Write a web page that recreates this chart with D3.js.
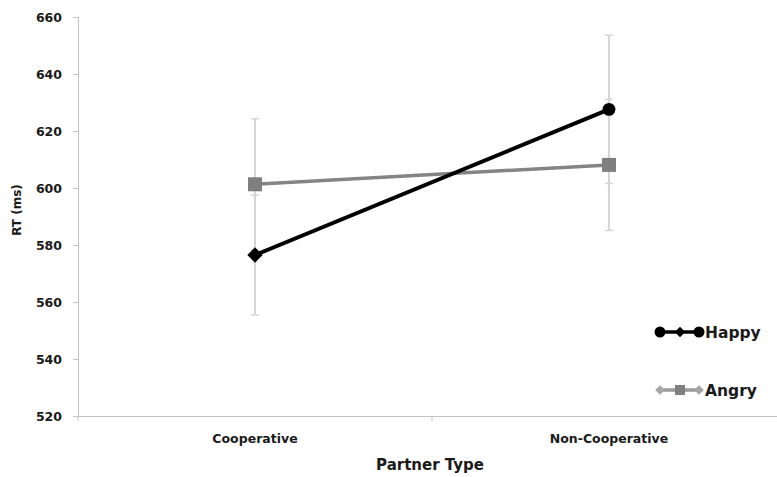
<!DOCTYPE html>
<html>
<head>
<meta charset="utf-8">
<script src="https://cdn.jsdelivr.net/npm/d3@7"></script>
<style>
  html, body { margin: 0; padding: 0; background: #fff; }
  svg { display: block; font-family: "DejaVu Sans", sans-serif; }
</style>
</head>
<body>
<svg id="chart" width="777" height="477"></svg>
<script>
// Reaction times by partner type and facial expression
const categories = ["Cooperative", "Non-Cooperative"];
const happyRT = [576.5, 627.6];
const angryRT = [601.3, 608.1];
const happyErr = [21, 26];
const angryErr = [23, 23];
const yTicks = [520, 540, 560, 580, 600, 620, 640, 660];
const seriesNames = ["Happy", "Angry"];

const svg = d3.select("#chart");
const axisColor = "#c3c3c3";
const errColor = "#d6d6d6";
const textColor = "#1a1a1a";
const font = "'DejaVu Sans', sans-serif";

const x = d3.scaleBand().domain(categories).range([78, 786]);
const y = d3.scaleLinear().domain([520, 660]).range([416, 17]);

// y axis
const yAxis = svg.append("g").attr("transform", "translate(78,0)")
  .call(d3.axisLeft(y).tickValues(yTicks).tickSize(5).tickPadding(11).tickFormat(d3.format("d")));
yAxis.select(".domain").attr("stroke", axisColor).attr("stroke-width", 1);
yAxis.selectAll(".tick line").attr("stroke", axisColor);
yAxis.selectAll(".tick text").attr("fill", textColor).attr("font-size", 12.5).attr("font-weight", "bold")
  .attr("font-family", font);

// x axis: ticks sit on band boundaries
const xAxis = svg.append("g").attr("transform", "translate(0,416)");
xAxis.append("line").attr("x1", 78).attr("x2", 786).attr("y1", 0.5).attr("y2", 0.5)
  .attr("stroke", axisColor);
const bounds = [x.range()[0], ...categories.map(c => x(c) + x.bandwidth())];
xAxis.selectAll("line.tk").data(bounds).join("line").attr("class", "tk")
  .attr("x1", d => d).attr("x2", d => d).attr("y1", 0).attr("y2", 5).attr("stroke", axisColor);
xAxis.selectAll("text").data(categories).join("text")
  .attr("x", d => x(d) + x.bandwidth() / 2).attr("y", 27)
  .attr("text-anchor", "middle").attr("font-size", 12.5).attr("font-weight", "bold").attr("fill", textColor)
  .text(d => d);

// axis titles
svg.append("text").attr("x", 430).attr("y", 470).attr("text-anchor", "middle")
  .attr("font-size", 15).attr("font-weight", "bold").attr("fill", textColor).text("Partner Type");
svg.append("text").attr("transform", "translate(21,210) rotate(-90)").attr("text-anchor", "middle")
  .attr("font-size", 12).attr("font-weight", "bold").attr("fill", textColor).text("RT (ms)");

const cx = c => x(c) + x.bandwidth() / 2;

// error bars
function errorBars(vals, errs) {
  const g = svg.append("g");
  categories.forEach((c, i) => {
    const px = cx(c), top = y(vals[i] + errs[i]), bot = y(vals[i] - errs[i]);
    g.append("line").attr("x1", px).attr("x2", px).attr("y1", top).attr("y2", bot)
      .attr("stroke", errColor).attr("stroke-width", 2);
    [top, bot].forEach(yy => g.append("line").attr("x1", px - 4).attr("x2", px + 4)
      .attr("y1", yy).attr("y2", yy).attr("stroke", errColor).attr("stroke-width", 1.5));
  });
}
errorBars(happyRT, happyErr);
errorBars(angryRT, angryErr);

const line = d3.line().x((d, i) => cx(categories[i])).y(d => y(d));

// Angry series
svg.append("path").datum(angryRT).attr("d", line).attr("fill", "none")
  .attr("stroke", "#848484").attr("stroke-width", 3.5);
svg.selectAll("rect.angry").data(angryRT).join("rect").attr("class", "angry")
  .attr("x", (d, i) => cx(categories[i]) - 7).attr("y", d => y(d) - 7)
  .attr("width", 14).attr("height", 14).attr("fill", "#7f7f7f");

// Happy series
svg.append("path").datum(happyRT).attr("d", line).attr("fill", "none")
  .attr("stroke", "#000").attr("stroke-width", 4);
const diamond = d3.symbol().type(d3.symbolDiamond2);
const circle = d3.symbol().type(d3.symbolCircle);
svg.selectAll("path.happy").data(happyRT).join("path").attr("class", "happy")
  .attr("transform", (d, i) => `translate(${cx(categories[i])},${y(d)})`)
  .attr("d", (d, i) => i === 0 ? diamond.size(150)() : circle.size(130)())
  .attr("fill", "#000");

// legend
const legend = svg.append("g");
const legRows = [
  { name: seriesNames[0], y: 332, stroke: "#000", end: "#000", mid: "#000", endType: "circle", midType: "diamond" },
  { name: seriesNames[1], y: 390, stroke: "#999", end: "#a6a6a6", mid: "#808080", endType: "diamond", midType: "square" }
];
legRows.forEach(r => {
  legend.append("line").attr("x1", 660).attr("x2", 700).attr("y1", r.y).attr("y2", r.y)
    .attr("stroke", r.stroke).attr("stroke-width", 3.5);
  [660, 699].forEach(px => {
    if (r.endType === "circle") legend.append("circle").attr("cx", px).attr("cy", r.y).attr("r", 5.5).attr("fill", r.end);
    else legend.append("path").attr("transform", `translate(${px},${r.y})`)
      .attr("d", diamond.size(60)()).attr("fill", r.end);
  });
  if (r.midType === "diamond") legend.append("path").attr("transform", `translate(680,${r.y})`)
    .attr("d", diamond.size(70)()).attr("fill", r.mid);
  else legend.append("rect").attr("x", 675).attr("y", r.y - 5).attr("width", 10).attr("height", 10).attr("fill", r.mid);
  legend.append("text").attr("x", 705).attr("y", r.y + 6).attr("font-size", 15.5).attr("font-weight", "bold")
    .attr("fill", textColor).text(r.name);
});
</script>
</body>
</html>
